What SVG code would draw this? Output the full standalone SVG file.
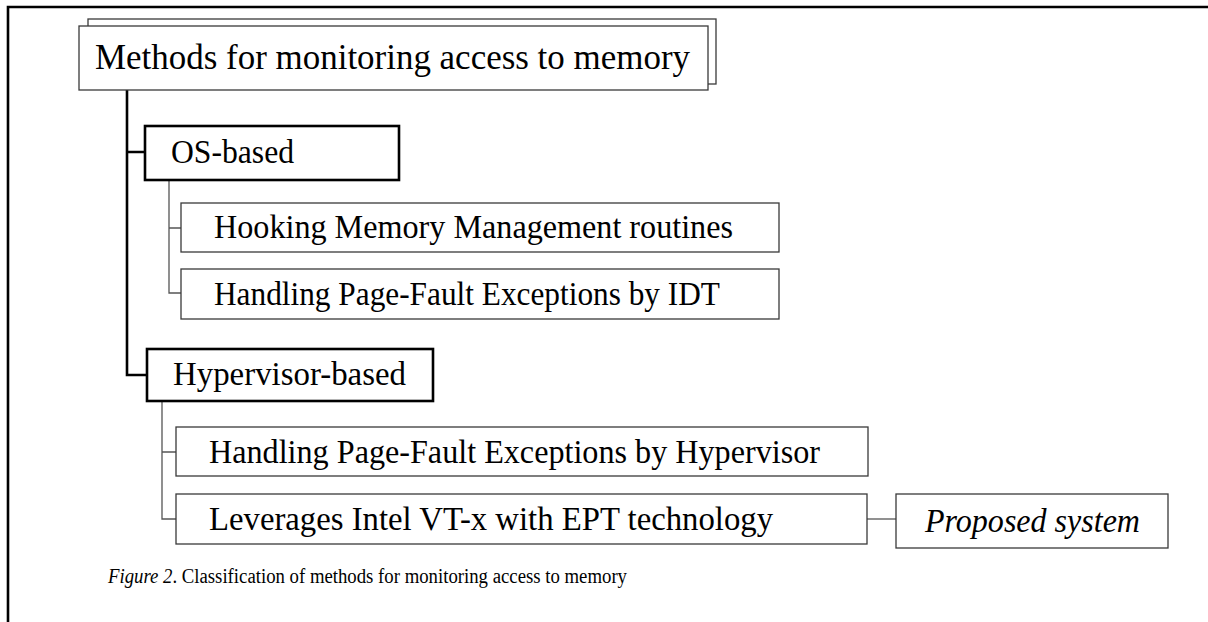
<svg xmlns="http://www.w3.org/2000/svg" width="1208" height="622" viewBox="0 0 1208 622">
<style>
.t{font-size:33px}
.root{font-size:36px}
.thin{fill:#fff;stroke:#3a3a3a;stroke-width:1.3}
.thick{fill:#fff;stroke:#000;stroke-width:2.6}
.cthick{fill:none;stroke:#000;stroke-width:2.6}
.cthin{fill:none;stroke:#555;stroke-width:1.3}
.cap{font-size:20px}
</style>
<rect width="1208" height="622" fill="#fff"/>
<path d="M8 622 V7 H1208" fill="none" stroke="#000" stroke-width="2.6"/>
<g id="connectors">
<path class="cthick" d="M127 90 V375 H147 M127 152 H145"/>
<path class="cthin" d="M169 180 V293 H181 M169 228 H181"/>
<path class="cthin" d="M162 401 V519 H176 M162 452 H176"/>
<path class="cthin" d="M867 519 H896"/>
</g>
<g font-family="'Liberation Serif', 'Times New Roman', Times, serif" fill="#000">
<g id="root">
<rect class="thin" x="88" y="19" width="628" height="65"/>
<rect class="thin" x="79" y="26" width="629" height="64"/>
<text class="root" x="95" y="69" textLength="595" lengthAdjust="spacingAndGlyphs">Methods for monitoring access to memory</text>
</g>
<g id="os-based">
<rect class="thick" x="145" y="126" width="254" height="54"/>
<text class="t" x="171" y="163" textLength="123" lengthAdjust="spacingAndGlyphs">OS-based</text>
</g>
<g id="hooking">
<rect class="thin" x="181" y="203" width="598" height="49"/>
<text class="t" x="214" y="238" textLength="519" lengthAdjust="spacingAndGlyphs">Hooking Memory Management routines</text>
</g>
<g id="idt">
<rect class="thin" x="181" y="269" width="598" height="50"/>
<text class="t" x="214" y="305" textLength="506" lengthAdjust="spacingAndGlyphs">Handling Page-Fault Exceptions by IDT</text>
</g>
<g id="hypervisor-based">
<rect class="thick" x="147" y="349" width="286" height="52"/>
<text class="t" x="173" y="385" textLength="233" lengthAdjust="spacingAndGlyphs">Hypervisor-based</text>
</g>
<g id="pf-hypervisor">
<rect class="thin" x="176" y="427" width="692" height="49"/>
<text class="t" x="209" y="463" textLength="611" lengthAdjust="spacingAndGlyphs">Handling Page-Fault Exceptions by Hypervisor</text>
</g>
<g id="vtx-ept">
<rect class="thin" x="176" y="494" width="691" height="50"/>
<text class="t" x="209" y="530" textLength="564" lengthAdjust="spacingAndGlyphs">Leverages Intel VT-x with EPT technology</text>
</g>
<g id="proposed">
<rect class="thin" x="896" y="494" width="272" height="54"/>
<text class="t" x="925" y="532" font-style="italic" textLength="215" lengthAdjust="spacingAndGlyphs">Proposed system</text>
</g>
<text class="cap" x="108" y="583" textLength="519" lengthAdjust="spacingAndGlyphs"><tspan font-style="italic">Figure 2</tspan>. Classification of methods for monitoring access to memory</text>
</g>
</svg>
